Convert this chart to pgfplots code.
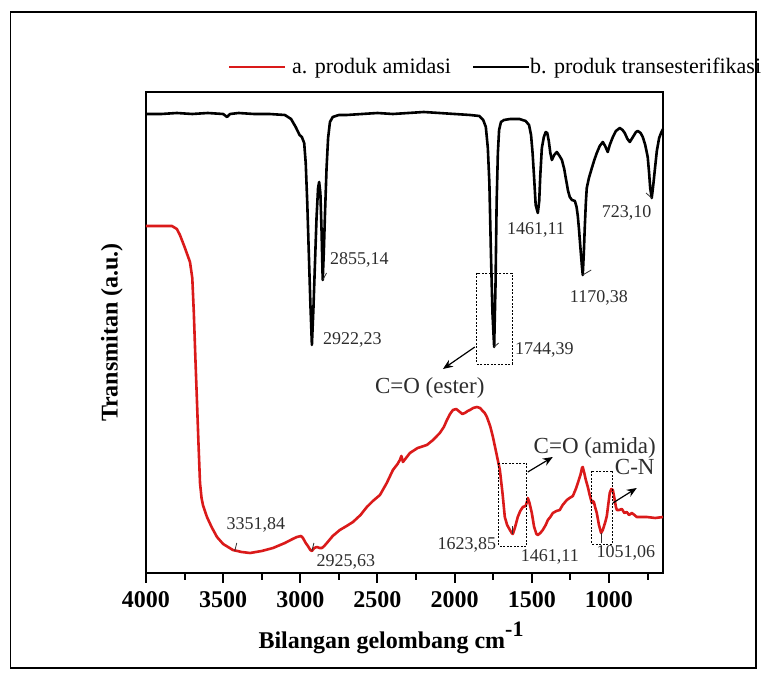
\documentclass[border=0pt]{standalone}
\usepackage{fontspec}
\setmainfont{Liberation Serif}
\usepackage{pgfplots}
\pgfplotsset{compat=1.18}
\usetikzlibrary{arrows.meta}
\definecolor{SpecRed}{RGB}{218,26,26}
\definecolor{LblGray}{RGB}{45,45,45}

\begin{document}
\begin{tikzpicture}
\path[use as bounding box] (0,0) rectangle (764pt,680pt);
% outer frame of the figure
\draw[line width=1.2pt] (10.7pt,12pt) rectangle (756pt,668pt);

\begin{axis}[
  at={(146pt,107pt)}, anchor=south west,
  scale only axis, width=517pt, height=481pt,
  x dir=reverse, xmin=650, xmax=4000,
  ymin=0, ymax=481,
  axis line style={line width=2.2pt},
  xtick={1000,1500,2000,2500,3000,3500,4000},
  minor xtick={750,1250,1750,2250,2750,3250,3750},
  ytick=\empty,
  tick align=outside, tick pos=bottom,
  major tick length=10pt, minor tick length=7pt,
  every tick/.style={black, line width=2pt},
  /pgf/number format/1000 sep={},
  /pgf/number format/assume math mode=true,
  xticklabel style={font=\bfseries\fontsize{24}{24}\selectfont, yshift=-5pt},
  xlabel={Bilangan gelombang cm\raisebox{12pt}{\fontsize{22}{22}\selectfont-1}},
  xlabel style={font=\bfseries\fontsize{24}{24}\selectfont,
    at={(axis description cs:0.474,-0.156)}, anchor=base},
  ylabel={Transmitan (a.u.)},
  ylabel style={font=\bfseries\fontsize{24}{24}\selectfont,
    at={(axis description cs:-0.066,0.5)}, anchor=center},
  clip=false,
]
% b. produk transesterifikasi
\addplot[black, line width=2.6pt, line join=round] coordinates {
(4000,459)(3900,459)(3800,460)(3700,459)(3600,460)(3500,459)(3475,456)(3455,459)
(3400,460)(3300,459)(3200,459)(3100,458)(3060,454)(3030,446)(3005,438)(2990,436)
(2975,430)(2965,410)(2955,370)(2945,320)(2935,270)(2925,228)(2915,265)(2905,310)
(2895,355)(2885,385)(2878,391)(2870,380)(2862,340)(2855,293)(2848,320)(2840,360)
(2830,405)(2820,435)(2808,451)(2790,456)(2750,458)(2700,458)(2600,459)(2500,460)
(2400,459)(2300,460)(2200,461)(2100,460)(2000,459)(1900,458)(1840,457)(1815,453)
(1798,446)(1785,425)(1775,390)(1765,320)(1755,260)(1744,226)(1735,290)(1728,370)
(1720,420)(1712,443)(1700,451)(1680,453)(1640,454)(1580,454)(1540,452)(1518,448)
(1505,438)(1495,420)(1485,395)(1475,368)(1461,360)(1452,372)(1445,398)(1435,425)
(1422,436)(1410,441)(1400,440)(1390,432)(1380,420)(1370,413)(1355,418)(1338,421)
(1320,417)(1305,413)(1290,404)(1280,395)(1265,382)(1254,376)(1240,373)(1221,372)
(1210,366)(1202,357)(1195,345)(1185,325)(1176,308)(1170,298)(1163,320)(1157,345)
(1150,370)(1144,385)(1130,395)(1111,405)(1095,413)(1079,420)(1060,427)(1040,431)
(1025,427)(1008,421)(995,428)(975,436)(955,442)(930,445)(912,443)(898,440)
(880,434)(865,431)(845,436)(825,441)(813,442)(795,440)(781,436)(765,428)
(749,416)(740,400)(733,385)(723,375)(713,388)(703,403)(690,422)(675,435)
(660,441)(650,444)
};
% a. produk amidasi
\addplot[SpecRed, line width=2.6pt, line join=round] coordinates {
(4000,347)(3900,347)(3832,347)(3800,344)(3780,338)(3750,326)(3715,311)(3700,295)
(3690,260)(3680,215)(3670,173)(3660,130)(3650,90)(3640,75)(3631,68)(3605,56)
(3575,46)(3540,36)(3500,29)(3437,23)(3380,21)(3326,20)(3250,22)(3177,25)
(3100,30)(3050,34)(3022,36)(2995,37)(2983,35)(2965,30)(2951,27)(2935,23)
(2925,22)(2910,25)(2892,26)(2875,25)(2860,25)(2845,27)(2828,30)(2790,37)
(2744,43)(2700,47)(2659,51)(2610,58)(2569,66)(2530,72)(2484,78)(2440,90)
(2400,103)(2370,109)(2355,113)(2345,117)(2335,111)(2320,114)(2290,120)(2240,125)
(2180,128)(2140,133)(2096,140)(2070,146)(2050,153)(2030,159)(2011,163)(1990,164)
(1966,161)(1950,159)(1934,160)(1915,162)(1901,163)(1880,165)(1856,166)(1835,165)
(1824,163)(1805,160)(1791,156)(1770,147)(1752,136)(1730,120)(1707,103)(1690,80)
(1675,56)(1660,48)(1642,43)(1630,40)(1623,39)(1610,45)(1591,56)(1575,62)
(1558,66)(1540,67)(1530,72)(1526,75)(1515,70)(1500,60)(1485,46)(1470,39)
(1461,38)(1445,40)(1429,43)(1410,48)(1396,53)(1380,56)(1364,60)(1340,62)
(1319,63)(1300,68)(1273,73)(1255,75)(1234,77)(1215,84)(1202,90)(1185,98)
(1175,105)(1170,106)(1160,100)(1150,93)(1137,86)(1125,78)(1111,70)(1105,72)
(1098,71)(1090,66)(1079,60)(1065,48)(1051,40)(1040,43)(1034,46)(1022,52)
(1014,57)(1005,68)(995,80)(985,84)(975,83)(965,75)(955,66)(949,63)
(935,63)(917,64)(900,60)(885,61)(870,58)(852,60)(835,58)(820,56)
(790,56)(755,56)(700,55)(650,56)
};

% peak labels, black spectrum
\begin{scope}[every node/.style={font=\fontsize{18}{18}\selectfont, text=LblGray, inner sep=0pt}]
\node[anchor=west] at (axis cs:2808,313) {2855,14};
\node[anchor=west] at (axis cs:2853,233) {2922,23};
\node[anchor=west] at (axis cs:1610,223) {1744,39};
\node[anchor=west] at (axis cs:1662,343) {1461,11};
\node[anchor=west] at (axis cs:1254,275) {1170,38};
\node[anchor=west] at (axis cs:1047,360) {723,10};
% peak labels, red spectrum
\node at (axis cs:3288,48) {3351,84};
\node at (axis cs:2705,11) {2925,63};
\node at (axis cs:1921,28) {1623,85};
\node at (axis cs:1383,16) {1461,11};
\node at (axis cs:891,20) {1051,06};
\end{scope}
% small peak markers
\draw[LblGray, line width=0.8pt] (axis cs:2855,293) -- (axis cs:2830,300);
\draw[LblGray, line width=0.8pt] (axis cs:1744,226) -- (axis cs:1715,230);
\draw[LblGray, line width=0.8pt] (axis cs:1170,298) -- (axis cs:1115,303);
\draw[LblGray, line width=0.8pt] (axis cs:723,375) -- (axis cs:760,380);
\draw[LblGray, line width=0.8pt] (axis cs:3425,22) -- (axis cs:3412,30);
\draw[LblGray, line width=0.8pt] (axis cs:2925,22) -- (axis cs:2912,30);
\draw[LblGray, line width=0.8pt] (axis cs:1623,39) -- (axis cs:1623,47);
\draw[LblGray, line width=0.8pt] (axis cs:1051,40) -- (axis cs:1051,30);

% group boxes and arrows
\draw[line width=0.8pt, dash pattern=on 2pt off 1.5pt] (axis cs:1856,300) rectangle (axis cs:1629,209);
\draw[line width=0.8pt, dash pattern=on 2pt off 1.5pt] (axis cs:1714,110) rectangle (axis cs:1532,27);
\draw[line width=0.8pt, dash pattern=on 2pt off 1.5pt] (axis cs:1111,102) rectangle (axis cs:975,29);
\draw[-{Stealth[length=10pt,width=8pt]}, line width=1.2pt] (axis cs:1869,226) -- (axis cs:2076,204);
\draw[-{Stealth[length=10pt,width=8pt]}, line width=1.2pt] (axis cs:1526,101) -- (axis cs:1364,116);
\draw[-{Stealth[length=10pt,width=8pt]}, line width=1.2pt] (axis cs:975,70) -- (axis cs:820,85);
\begin{scope}[every node/.style={font=\fontsize{23}{23}\selectfont, text=LblGray, inner sep=0pt}]
\node at (axis cs:2161,185) {C=O (ester)};
\node at (axis cs:1092,125) {C=O (amida)};
\node at (axis cs:833,106) {C-N};
\end{scope}
\end{axis}

% legend
\draw[SpecRed, line width=2.4pt] (229pt,613pt) -- (285pt,613pt);
\node[anchor=base west, inner sep=0pt, font=\fontsize{22}{22}\selectfont] at (292pt,606pt) {a. produk amidasi};
\draw[black, line width=2.4pt] (473pt,613pt) -- (529pt,613pt);
\node[anchor=base west, inner sep=0pt, font=\fontsize{22}{22}\selectfont] at (530pt,606pt) {b. produk transesterifikasi};
\end{tikzpicture}
\end{document}
